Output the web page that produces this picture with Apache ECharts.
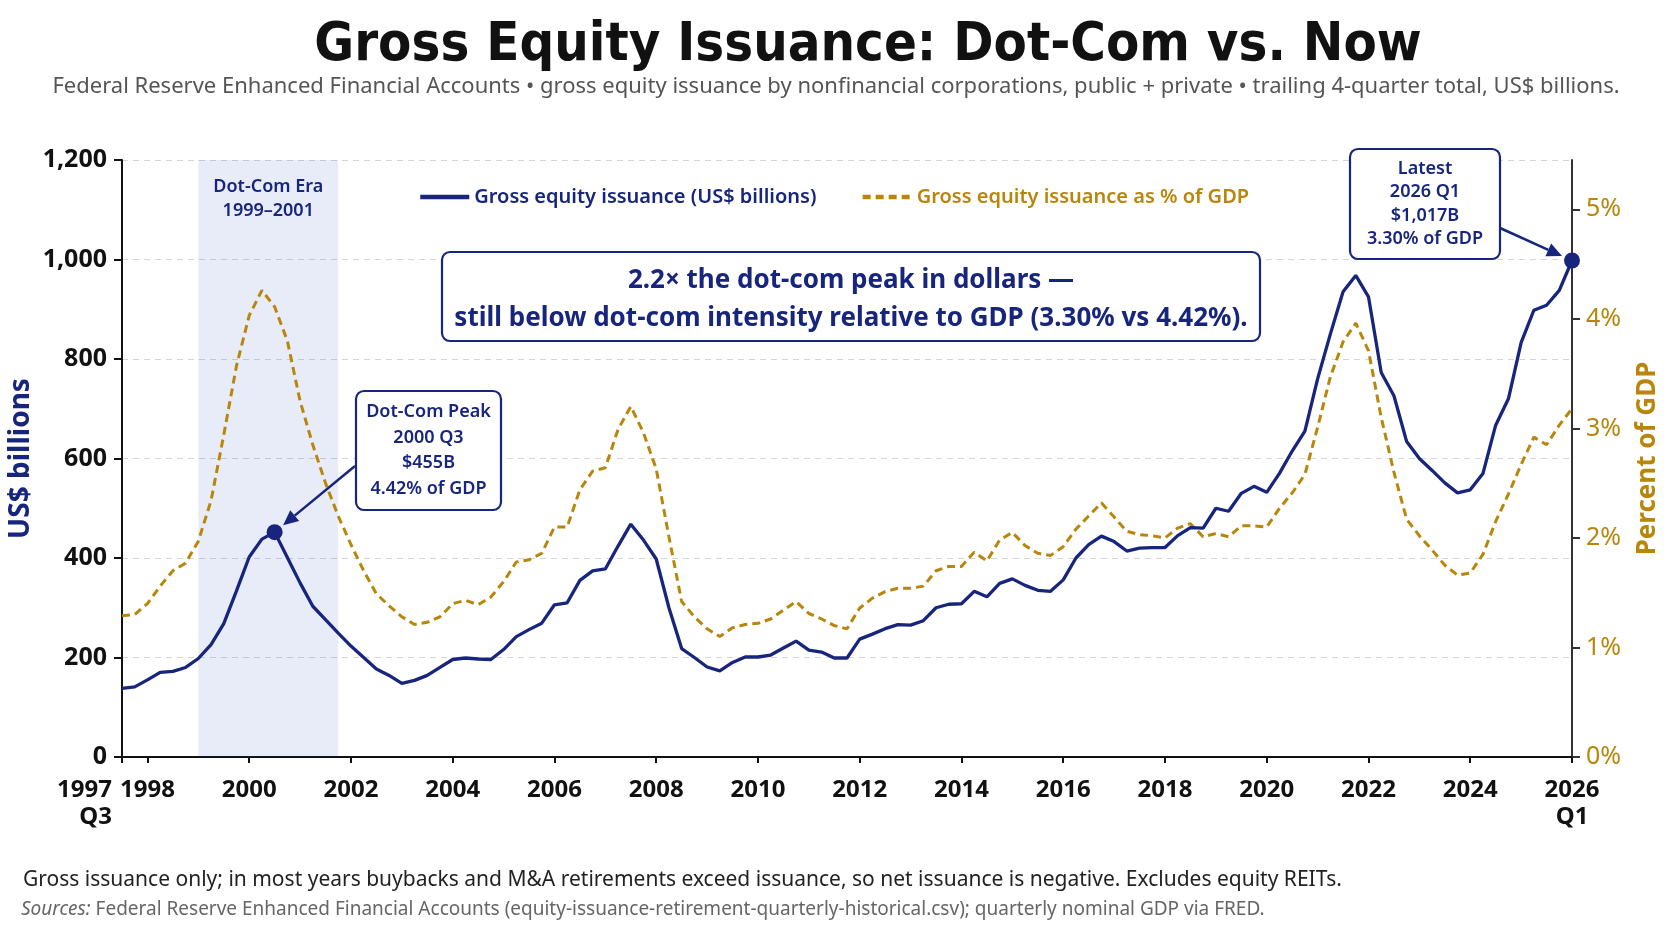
<!DOCTYPE html>
<html>
<head>
<meta charset="utf-8">
<title>Gross Equity Issuance: Dot-Com vs. Now</title>
<script src="https://cdn.jsdelivr.net/npm/echarts@6/dist/echarts.min.js"></script>
<style>
  html, body { margin: 0; padding: 0; background: #fff; }
  #main { width: 1672px; height: 941px; }
</style>
</head>
<body>
<div id="main"></div>
<script>
var NAVY = '#17257d';
var GOLD = '#b8860b';
var COND = "'DejaVu Sans Condensed', sans-serif";
var SANS = "'Noto Sans', 'Open Sans', sans-serif";

// quarters 1997 Q3 .. 2026 Q1
var firstYear = 1997, firstQ = 3, lastYear = 2026, lastQ = 1;
var quarters = [];
for (var y = firstYear; y <= lastYear; y++) {
    for (var q = 1; q <= 4; q++) {
        if (y == firstYear && q < firstQ) continue;
        if (y == lastYear && q > lastQ) break;
        quarters.push(y + ' Q' + q);
    }
}

// trailing 4-quarter gross issuance, US$ billions
var issuance = [
    138, 141,
    155, 170, 172, 180,   // 1998
    198, 226, 268, 334,   // 1999
    402, 438, 452, 401,   // 2000
    350, 303, 276, 249,   // 2001
    223, 200, 177, 164,   // 2002
    148, 154, 164, 180,   // 2003
    196, 199, 197, 196,   // 2004
    216, 242, 256, 269,   // 2005
    306, 310, 355, 374,   // 2006
    378, 424, 468, 436,   // 2007
    398, 300, 218, 200,   // 2008
    181, 173, 190, 201,   // 2009
    201, 205, 219, 233,   // 2010
    215, 211, 199, 199,   // 2011
    237, 247, 258, 266,   // 2012
    265, 274, 300, 307,   // 2013
    308, 333, 322, 349,   // 2014
    358, 345, 335, 333,   // 2015
    356, 400, 427, 444,   // 2016
    433, 414, 420, 421,   // 2017
    421, 445, 461, 460,   // 2018
    500, 494, 530, 544,   // 2019
    532, 570, 615, 655,   // 2020
    760, 850, 935, 968,   // 2021
    925, 773, 726, 634,   // 2022
    600, 576, 551, 531,   // 2023
    537, 570, 667, 720,   // 2024
    833, 898, 908, 938,   // 2025
    998                   // 2026
];

// same, as % of nominal GDP
var gdpPct = [
    1.29, 1.30,
    1.40, 1.56, 1.70, 1.77,
    1.97, 2.34, 2.94, 3.57,
    4.03, 4.26, 4.11, 3.80,
    3.25, 2.85, 2.50, 2.20,
    1.94, 1.70, 1.49, 1.38,
    1.28, 1.21, 1.23, 1.28,
    1.40, 1.43, 1.39, 1.46,
    1.60, 1.78, 1.80, 1.86,
    2.10, 2.10, 2.44, 2.61,
    2.64, 2.99, 3.20, 2.96,
    2.63, 2.01, 1.42, 1.28,
    1.17, 1.10, 1.18, 1.21,
    1.22, 1.26, 1.34, 1.42,
    1.31, 1.26, 1.20, 1.17,
    1.36, 1.45, 1.51, 1.54,
    1.54, 1.56, 1.70, 1.74,
    1.74, 1.87, 1.79, 1.98,
    2.05, 1.93, 1.86, 1.84,
    1.92, 2.08, 2.20, 2.32,
    2.19, 2.06, 2.03, 2.02,
    2.00, 2.09, 2.13, 2.01,
    2.04, 2.01, 2.11, 2.11,
    2.10, 2.27, 2.41, 2.58,
    3.01, 3.47, 3.79, 3.96,
    3.71, 3.10, 2.60, 2.17,
    2.02, 1.89, 1.75, 1.66,
    1.68, 1.85, 2.15, 2.40,
    2.67, 2.92, 2.85, 3.03,
    3.18
];

var leftTicks = [0, 200, 400, 600, 800, 1000, 1200];
var rightTicks = [0, 1, 2, 3, 4, 5];
var eraStart = '1999 Q1', eraEnd = '2001 Q4';
var peakQ = '2000 Q3', latestQ = '2026 Q1';

var S1 = 'Gross equity issuance (US$ billions)';
var S2 = 'Gross equity issuance as % of GDP';

function showXLabel(v) {
    if (v == quarters[0] || v == quarters[quarters.length - 1]) return true;
    var yr = parseInt(v.slice(0, 4), 10);
    return v.slice(5) == 'Q1' && yr % 2 == 0;
}

var xLabelFont = { fontFamily: SANS, fontWeight: 'bold', fontSize: 24, color: '#111', lineHeight: 27 };

var chart = echarts.init(document.getElementById('main'));

chart.setOption({
    animation: false,
    backgroundColor: '#fff',
    grid: { left: 122, right: 100, top: 160, bottom: 184, containLabel: false, outerBoundsMode: 'none' },
    legend: {
        left: 413, top: 182,
        itemWidth: 49, itemHeight: 16, itemGap: 44,
        itemStyle: { opacity: 0 },
        lineStyle: { width: 4.5 },
        textStyle: { fontFamily: SANS, fontSize: 20, fontWeight: 600 },
        data: [
            { name: S1, textStyle: { color: NAVY } },
            { name: S2, textStyle: { color: GOLD } }
        ]
    },
    xAxis: {
        type: 'category',
        data: quarters,
        boundaryGap: false,
        axisLine: { lineStyle: { color: '#111', width: 2 } },
        axisTick: {
            length: 6,
            interval: function (i, v) { return showXLabel(v); },
            lineStyle: { color: '#111', width: 2 }
        },
        axisLabel: {
            // every category gets a label slot; the unwanted ones are left empty
            interval: 0,
            formatter: function (v) {
                if (!showXLabel(v)) return '';
                if (v == quarters[0]) return '{m|' + v.slice(0, 4) + '}\n{m|' + v.slice(5) + '}';
                if (v == quarters[quarters.length - 1]) return v.replace(' ', '\n');
                return v.slice(0, 4);
            },
            alignMinLabel: 'right',
            margin: 20,
            fontFamily: xLabelFont.fontFamily, fontWeight: xLabelFont.fontWeight,
            fontSize: xLabelFont.fontSize, color: xLabelFont.color, lineHeight: xLabelFont.lineHeight,
            rich: {
                m: {
                    fontFamily: xLabelFont.fontFamily, fontWeight: xLabelFont.fontWeight,
                    fontSize: xLabelFont.fontSize, color: xLabelFont.color, lineHeight: xLabelFont.lineHeight,
                    padding: [0, 10, 0, 0]
                }
            }
        },
        splitLine: { show: false }
    },
    yAxis: [{
        type: 'value',
        min: 0, max: 1200, interval: 200,
        name: 'US$ billions',
        nameLocation: 'middle',
        nameGap: 87,
        nameMoveOverlap: false,
        nameTextStyle: { fontFamily: SANS, fontWeight: 'bold', fontSize: 28, color: NAVY },
        axisLine: { show: true, lineStyle: { color: '#111', width: 2 } },
        axisTick: { show: true, length: 8, customValues: leftTicks, lineStyle: { color: '#111', width: 2 } },
        axisLabel: {
            customValues: leftTicks,
            margin: 15,
            formatter: function (v) { return v.toLocaleString('en-US'); },
            fontFamily: SANS, fontWeight: 'bold', fontSize: 25, color: '#111'
        },
        splitLine: { show: true, lineStyle: { color: '#d6d6d6', type: [6, 5], width: 1 } }
    }, {
        type: 'value',
        min: 0, max: 5.45,
        position: 'right',
        name: 'Percent of GDP',
        nameLocation: 'middle',
        nameGap: 63,
        nameMoveOverlap: false,
        nameTextStyle: { fontFamily: SANS, fontWeight: 'bold', fontSize: 26, color: GOLD },
        axisLine: { show: true, lineStyle: { color: '#333', width: 2 } },
        axisTick: { show: true, length: 8, customValues: rightTicks, lineStyle: { color: '#333', width: 2 } },
        axisLabel: {
            customValues: rightTicks,
            margin: 14,
            formatter: function (v) { return v + '%'; },
            fontFamily: SANS, fontSize: 25, color: GOLD
        },
        splitLine: { show: false }
    }],
    series: [{
        name: S1,
        type: 'line',
        data: issuance,
        yAxisIndex: 0,
        symbol: 'none',
        z: 3,
        lineStyle: { color: NAVY, width: 3.3 },
        itemStyle: { color: NAVY },
        markArea: {
            silent: true,
            itemStyle: { color: 'rgba(30,70,190,0.1)' },
            label: {
                show: true, position: 'insideTop', distance: 15,
                fontFamily: SANS, fontSize: 18, fontWeight: 600, lineHeight: 24, color: NAVY
            },
            data: [[{ xAxis: eraStart, name: 'Dot-Com Era\n1999\u20132001' }, { xAxis: eraEnd }]]
        },
        markPoint: {
            symbol: 'circle', symbolSize: 16,
            itemStyle: { color: NAVY },
            label: { show: false },
            data: [
                { coord: [peakQ, issuance[quarters.indexOf(peakQ)]] },
                { coord: [latestQ, issuance[quarters.indexOf(latestQ)]] }
            ]
        }
    }, {
        name: S2,
        type: 'line',
        data: gdpPct,
        yAxisIndex: 1,
        symbol: 'none',
        z: 2,
        lineStyle: { color: GOLD, width: 3, type: [8, 5] },
        itemStyle: { color: GOLD }
    }]
});

// arrow from an annotation box to a data point, tip stops at the dot's edge
function arrow(id, sx, sy, q) {
    var p = chart.convertToPixel({ seriesIndex: 0 }, [q, issuance[quarters.indexOf(q)]]);
    var dx = sx - p[0], dy = sy - p[1];
    var len = Math.sqrt(dx * dx + dy * dy);
    var ux = dx / len, uy = dy / len;
    var tx = p[0] + ux * 11, ty = p[1] + uy * 11;
    var hx = tx + ux * 15, hy = ty + uy * 15;
    return [{
        type: 'line', id: id + 'l', z: 20,
        shape: { x1: sx, y1: sy, x2: hx, y2: hy },
        style: { stroke: NAVY, lineWidth: 2.5 }
    }, {
        type: 'polygon', id: id + 'h', z: 20,
        shape: { points: [[tx, ty], [hx - uy * 7, hy + ux * 7], [hx + uy * 7, hy - ux * 7]] },
        style: { fill: NAVY }
    }];
}

function box(id, x, y, w, h, lines, font, lh, dy) {
    return [{
        type: 'rect', id: id + 'r', z: 20,
        shape: { x: x, y: y, width: w, height: h, r: 8 },
        style: { fill: '#fff', stroke: NAVY, lineWidth: 2.2 }
    }, {
        type: 'text', id: id + 't', z: 21,
        x: x + w / 2, y: y + h / 2 + (dy || 0),
        style: {
            text: lines.join('\n'), font: font, fill: NAVY, lineHeight: lh,
            textAlign: 'center', textVerticalAlign: 'middle', align: 'center', verticalAlign: 'middle'
        }
    }];
}

var g = [];
g.push({
    type: 'text', x: 868, y: 46, z: 30,
    style: { text: 'Gross Equity Issuance: Dot-Com vs. Now', font: 'bold 54px ' + COND, fill: '#111',
        textAlign: 'center', textVerticalAlign: 'middle', align: 'center', verticalAlign: 'middle' }
});
g.push({
    type: 'text', x: 836, y: 87, z: 30,
    style: { text: 'Federal Reserve Enhanced Financial Accounts \u2022 gross equity issuance by nonfinancial corporations, public + private \u2022 trailing 4-quarter total, US$ billions.',
        font: '22px ' + SANS, fill: '#555',
        textAlign: 'center', textVerticalAlign: 'middle', align: 'center', verticalAlign: 'middle' }
});
g.push({
    type: 'text', x: 23, y: 880, z: 30,
    style: { text: 'Gross issuance only; in most years buybacks and M&A retirements exceed issuance, so net issuance is negative. Excludes equity REITs.',
        font: '21px ' + SANS, fill: '#222', textVerticalAlign: 'middle', verticalAlign: 'middle' }
});
g.push({
    type: 'text', x: 21, y: 910, z: 30,
    style: {
        text: '{i|Sources:} Federal Reserve Enhanced Financial Accounts (equity-issuance-retirement-quarterly-historical.csv); quarterly nominal GDP via FRED.',
        fontFamily: SANS, fontSize: 19, fill: '#666', textVerticalAlign: 'middle', verticalAlign: 'middle',
        rich: { i: { fontFamily: SANS, fontSize: 19, fontStyle: 'italic', color: '#666' } }
    }
});
g = g.concat(box('callout', 442, 252, 818, 89,
    ['2.2\u00d7 the dot-com peak in dollars \u2014', 'still below dot-com intensity relative to GDP (3.30% vs 4.42%).'],
    'bold 26px ' + SANS, 38, 3));
g = g.concat(box('peak', 356, 391, 145, 119,
    ['Dot-Com Peak', '2000 Q3', '$455B', '4.42% of GDP'], '600 18px ' + SANS, 25.5));
g = g.concat(box('latest', 1350, 149, 150, 110,
    ['Latest', '2026 Q1', '$1,017B', '3.30% of GDP'], '600 18px ' + SANS, 23.5));
g = g.concat(arrow('pa', 355, 466, peakQ));
g = g.concat(arrow('la', 1500, 228, latestQ));

chart.setOption({ graphic: g });
</script>
</body>
</html>
